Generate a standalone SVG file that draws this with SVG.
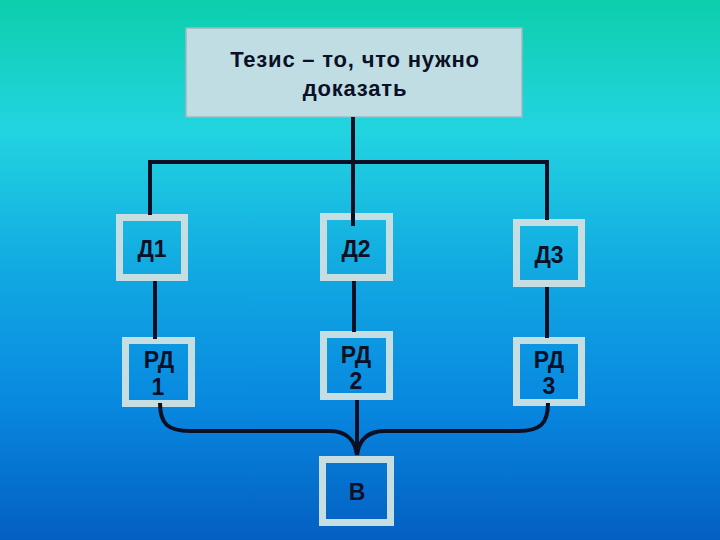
<svg xmlns="http://www.w3.org/2000/svg" width="720" height="540" viewBox="0 0 720 540">
<defs>
<linearGradient id="bg" x1="0" y1="0" x2="0" y2="1">
<stop offset="0" stop-color="#0ccfac"/>
<stop offset="0.24" stop-color="#22d4e0"/>
<stop offset="0.5" stop-color="#12a9e2"/>
<stop offset="0.75" stop-color="#0888e0"/>
<stop offset="1" stop-color="#045fc2"/>
</linearGradient>
<style>
.frame{fill:none;stroke:#c6dde2;stroke-width:7}
.edge{fill:none;stroke:#0a0f24;stroke-width:4}
.lbl{font-family:"Liberation Sans",Arial,sans-serif;font-weight:bold;font-size:23px;fill:#0a1026;text-anchor:middle}
.top{font-size:22px;letter-spacing:0.8px}
</style>
</defs>
<rect width="720" height="540" fill="url(#bg)"/>
<g id="thesis">
<rect x="186" y="28" width="336" height="89" fill="#bfdde3" stroke="#9fb8bf" stroke-width="1.5"/>
<text class="lbl top" x="355" y="67">Тезис – то, что нужно</text>
<text class="lbl top" x="355" y="96">доказать</text>
</g>
<g id="d1">
<rect class="frame" x="119.5" y="217.5" width="65" height="60"/>
<text class="lbl" x="152" y="257">Д1</text>
</g>
<g id="d2">
<rect class="frame" x="323.5" y="216.5" width="66" height="61"/>
<text class="lbl" x="356" y="257">Д2</text>
</g>
<g id="d3">
<rect class="frame" x="516.5" y="222.5" width="65" height="61"/>
<text class="lbl" x="549" y="263">Д3</text>
</g>
<g id="rd1">
<rect class="frame" x="125.5" y="340.5" width="66" height="63"/>
<text class="lbl" x="159" y="368">РД</text>
<text class="lbl" x="158" y="395">1</text>
</g>
<g id="rd2">
<rect class="frame" x="323.5" y="334.5" width="66" height="62"/>
<text class="lbl" x="356" y="363">РД</text>
<text class="lbl" x="356" y="389">2</text>
</g>
<g id="rd3">
<rect class="frame" x="516.5" y="340.5" width="65" height="62"/>
<text class="lbl" x="549" y="368">РД</text>
<text class="lbl" x="549" y="394">3</text>
</g>
<g id="v">
<rect class="frame" x="322.5" y="459.5" width="68" height="63"/>
<text class="lbl" x="357" y="500">В</text>
</g>
<g id="connectors">
<line class="edge" x1="353" y1="117" x2="353" y2="226"/>
<line class="edge" x1="148" y1="162" x2="549" y2="162"/>
<line class="edge" x1="150" y1="160" x2="150" y2="215"/>
<line class="edge" x1="547" y1="160" x2="547" y2="220"/>
<line class="edge" x1="155" y1="281" x2="155" y2="339"/>
<line class="edge" x1="354" y1="281" x2="354" y2="332"/>
<line class="edge" x1="547" y1="287" x2="547" y2="338"/>
<line class="edge" x1="357" y1="400" x2="357" y2="455"/>
<path class="edge" d="M160,403 C160,424 168,431 190,431 L330,431 C346,431 355,440 357,455"/>
<path class="edge" d="M548,403 C548,424 540,431 518,431 L385,431 C368,431 359,440 357,455"/>
</g>
</svg>
